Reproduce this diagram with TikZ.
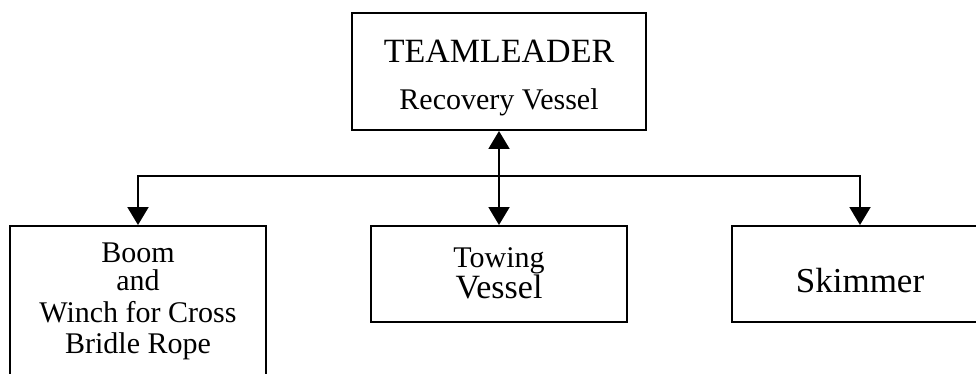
\documentclass[tikz,border=0pt]{standalone}
\usepackage{fontspec}
\setmainfont{Liberation Serif}
\usetikzlibrary{arrows.meta}
\begin{document}
\begin{tikzpicture}[x=1pt,y=-1pt,
  box/.style={draw, line width=2pt, inner sep=0pt, rectangle},
  arr/.style={line width=2pt, -{Triangle[length=18pt,width=21pt]}},
  darr/.style={line width=2pt, {Triangle[length=18pt,width=21pt]}-{Triangle[length=18pt,width=21pt]}},
  lbl/.style={anchor=base, inner sep=0pt},
  big/.style={font=\fontsize{34}{36}\selectfont},
  mid/.style={font=\fontsize{30}{32}\selectfont}
]
\useasboundingbox (0,0) rectangle (976,374);
\clip (0,0) rectangle (976,374);
% boxes
\node[box, minimum width=294pt, minimum height=117pt] (lead) at (499,71.5) {};
\node[box, minimum width=256pt, minimum height=96pt] (tow) at (499,274) {};
\node[box, minimum width=256pt, minimum height=160pt] (boom) at (138,306) {};
\node[box, minimum width=256pt, minimum height=96pt] (skim) at (860,274) {};
% texts
\node[lbl, big] (t1) at (499,63) {TEAMLEADER};
\node[lbl, mid] (t2) at (499,110) {Recovery Vessel};
\node[lbl, mid] (b1) at (138,262) {Boom};
\node[lbl, mid] (b2) at (138,290) {and};
\node[lbl, mid] (b3) at (138,322) {Winch for Cross};
\node[lbl, mid] (b4) at (138,353) {Bridle Rope};
\node[lbl, mid] (w1) at (499,267) {Towing};
\node[lbl, big] (w2) at (499,298) {Vessel};
\node[lbl, font=\fontsize{35}{37}\selectfont] (s1) at (860,292) {Skimmer};
% connectors
\coordinate (bus) at (499,176);
\draw[darr] (lead.south) -- (tow.north);
\draw[arr] (bus) -| (boom.north);
\draw[arr] (bus) -| (skim.north);
\end{tikzpicture}
\end{document}
